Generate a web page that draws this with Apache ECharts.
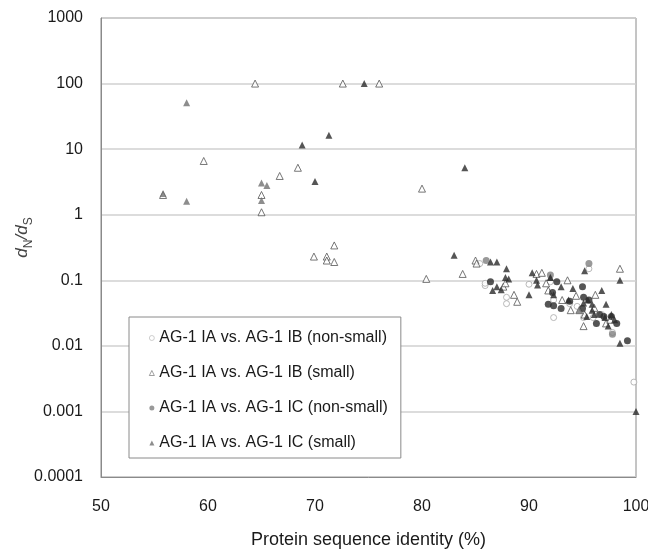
<!DOCTYPE html>
<html><head><meta charset="utf-8">
<script src="https://cdn.jsdelivr.net/npm/echarts@6/dist/echarts.min.js"></script>
<style>html,body{margin:0;padding:0;background:#fff}#c{width:648px;height:556px}</style>
</head><body><div id="c"></div>
<script>
var xTicks = [50, 60, 70, 80, 90, 100];
var yTickValues = [0.0001, 0.001, 0.01, 0.1, 1, 10, 100, 1000];
var yTickLabels = ['0.0001', '0.001', '0.01', '0.1', '1', '10', '100', '1000'];
var legendNames = ['AG-1 IA vs. AG-1 IB (non-small)', 'AG-1 IA vs. AG-1 IB (small)', 'AG-1 IA vs. AG-1 IC (non-small)', 'AG-1 IA vs. AG-1 IC (small)'];

var ibNonSmall = [[85.4,0.18],[85.9,0.083],[85.9,0.09],[87.9,0.044],[87.9,0.055],[90.0,0.087],[92.3,0.027],[92.3,0.05],[93.8,0.044],[95.6,0.15],[95.1,0.027],[96.0,0.027],[96.8,0.03],[97.8,0.016],[92.0,0.095],[94.5,0.04],[99.8,0.0028]];
var ibSmall = [[55.8,2.0],[59.6,6.6],[64.4,100],[65.0,2.0],[65.0,1.09],[66.7,3.9],[68.4,5.2],[69.9,0.23],[71.1,0.23],[71.1,0.2],[71.8,0.34],[71.8,0.19],[72.6,100],[76.0,100],[80.0,2.5],[80.4,0.105],[83.8,0.125],[85.0,0.2],[85.1,0.18],[87.6,0.08],[87.8,0.09],[88.6,0.06],[88.9,0.047],[90.7,0.125],[91.2,0.13],[91.6,0.09],[91.8,0.07],[93.1,0.05],[93.6,0.1],[93.9,0.035],[94.4,0.058],[95.1,0.02],[95.2,0.03],[96.2,0.06],[96.1,0.038],[97.2,0.022],[97.6,0.025],[98.5,0.15],[94.7,0.035]];
var icNonSmallGrey = [[86.0,0.2],[92.0,0.12],[95.6,0.18],[97.8,0.015]];
var icNonSmallDark = [[86.4,0.095],[91.8,0.043],[92.3,0.041],[92.2,0.065],[92.6,0.095],[93.0,0.037],[93.8,0.048],[95.0,0.08],[95.1,0.055],[95.6,0.05],[96.3,0.022],[96.6,0.03],[97.7,0.028],[98.2,0.022],[99.2,0.012],[95.0,0.037],[97.0,0.028]];
var icSmallGrey = [[55.8,2.1],[58.0,51],[58.0,1.6],[65.0,3.05],[65.0,1.65],[65.5,2.8],[92.0,0.11],[94.7,0.035]];
var icSmallDark = [[68.8,11.6],[70.0,3.2],[71.3,16.3],[74.6,100],[84.0,5.2],[83.0,0.24],[86.4,0.19],[87.0,0.19],[86.6,0.07],[87.0,0.08],[87.4,0.072],[87.9,0.15],[87.8,0.11],[88.1,0.105],[90.0,0.06],[90.3,0.13],[90.7,0.1],[90.8,0.085],[92.0,0.11],[92.3,0.06],[93.0,0.08],[94.1,0.075],[93.7,0.05],[95.2,0.14],[95.1,0.045],[95.5,0.05],[95.9,0.043],[96.1,0.03],[96.8,0.07],[97.2,0.043],[97.1,0.027],[97.4,0.02],[97.7,0.03],[98.0,0.025],[98.5,0.1],[98.5,0.011],[100,0.001],[95.9,0.035],[95.4,0.028]];

var font = 'Liberation Sans, Arial, sans-serif';
var chart = echarts.init(document.getElementById('c'), null, {renderer: 'canvas'});
chart.setOption({
  animation: false,
  textStyle: {fontFamily: font},
  grid: {left: 101, right: 12, top: 18, bottom: 79, outerBoundsMode: 'none', containLabel: false,
         show: true, borderColor: '#8a8a8a', borderWidth: 1, backgroundColor: 'transparent'},
  legend: {
    data: [
      {name: legendNames[0], itemStyle: {borderWidth: 0.7}},
      {name: legendNames[1], itemStyle: {borderWidth: 0.7}},
      {name: legendNames[2]},
      {name: legendNames[3]}
    ],
    orient: 'vertical', left: 129, top: 317,
    backgroundColor: '#fff', borderColor: '#8a8a8a', borderWidth: 1,
    padding: [12, 13, 6, 20],
    itemWidth: 5, itemHeight: 5, itemGap: 17,
    textStyle: {fontSize: 16, color: '#1a1a1a', fontFamily: font, lineHeight: 18}
  },
  xAxis: {
    type: 'value', min: xTicks[0], max: xTicks[xTicks.length - 1], interval: 10,
    name: 'Protein sequence identity (%)', nameLocation: 'middle', nameGap: 54, nameMoveOverlap: false,
    nameTextStyle: {fontSize: 18, color: '#1a1a1a', fontFamily: font},
    axisLine: {show: true, lineStyle: {color: '#8a8a8a'}},
    axisTick: {show: false},
    axisLabel: {fontSize: 16, color: '#1a1a1a', margin: 22, fontFamily: font, hideOverlap: false},
    splitLine: {show: false}
  },
  yAxis: {
    type: 'log', logBase: 10, min: yTickValues[0], max: yTickValues[yTickValues.length - 1],
    name: '{i|d}{s|N}{i|/}{i|d}{s|S}', nameLocation: 'middle', nameGap: 66, nameRotate: 90, nameMoveOverlap: false,
    nameTextStyle: {
      color: '#444', fontFamily: font, padding: [0, 0, 0, 20],
      rich: {
        i: {fontSize: 17, fontStyle: 'italic', color: '#444', lineHeight: 26, verticalAlign: 'middle', fontFamily: font},
        s: {fontSize: 12, color: '#444', lineHeight: 12, verticalAlign: 'bottom', fontFamily: font}
      }
    },
    axisLine: {show: true, lineStyle: {color: '#8a8a8a'}},
    axisTick: {show: false},
    axisLabel: {
      fontSize: 16, color: '#1a1a1a', margin: 18, fontFamily: font,
      formatter: function (v) {
        for (var k = 0; k < yTickValues.length; k++) {
          if (Math.abs(Math.log10(v) - Math.log10(yTickValues[k])) < 1e-6) return yTickLabels[k];
        }
        return '';
      }
    },
    splitLine: {show: true, lineStyle: {color: '#d0d0d0', width: 1.5}}
  },
  series: [
    {name: legendNames[0], type: 'scatter', symbol: 'circle', symbolSize: 6, data: ibNonSmall,
     itemStyle: {color: '#fff', borderColor: '#a8a8a8', borderWidth: 1}},
    {name: legendNames[1], type: 'scatter', symbol: 'triangle', symbolSize: 7, data: ibSmall,
     itemStyle: {color: '#fff', borderColor: '#555', borderWidth: 1}},
    {name: legendNames[2], type: 'scatter', symbol: 'circle', symbolSize: 7, data: icNonSmallGrey,
     itemStyle: {color: '#808080'}},
    {name: legendNames[2], type: 'scatter', symbol: 'circle', symbolSize: 7, data: icNonSmallDark,
     itemStyle: {color: '#2b2b2b'}},
    {name: legendNames[3], type: 'scatter', symbol: 'triangle', symbolSize: 7, data: icSmallGrey,
     itemStyle: {color: '#707070'}},
    {name: legendNames[3], type: 'scatter', symbol: 'triangle', symbolSize: 7, data: icSmallDark,
     itemStyle: {color: '#2b2b2b'}}
  ]
});
</script></body></html>
